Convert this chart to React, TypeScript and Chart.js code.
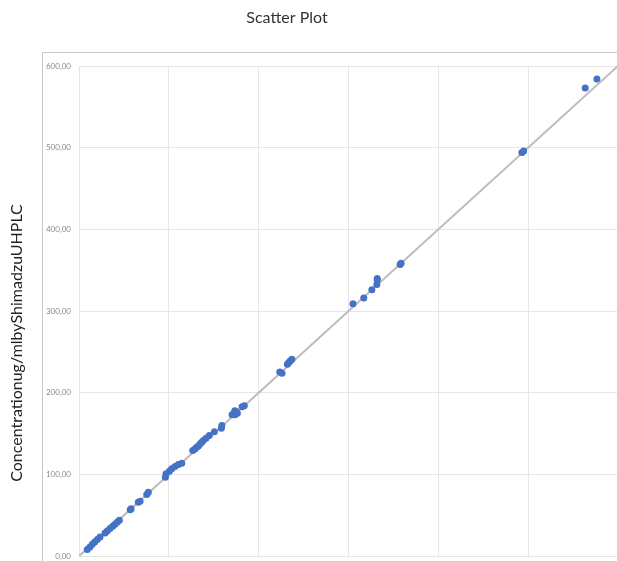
import React, { useEffect, useRef } from "react";
import { Chart, registerables } from "chart.js";

Chart.register(...registerables);

const chartTitle = "Scatter Plot";
const yAxisTitle = "Concentrationug/mlbyShimadzuUHPLC";

const xValues = [
  9.2, 12.2, 14.8, 17.5, 20.4, 23.4,
  29, 31.5, 34.5, 37.5, 40.1, 42.7, 44.9,
  57, 58, 66, 68, 75.4, 77.2,
  96.1, 96.9, 100.6, 103.2, 106.9, 110.6, 114.4,
  126.6, 129, 131, 132.9, 134.7, 136.6, 138.4, 141.4, 145, 150.7, 158.5, 159,
  170.4, 171.8, 173.4, 173.7, 175, 176.3, 181.5, 184,
  223.5, 226, 232, 233.5, 235, 237,
  305, 317, 326, 331.5, 332, 332, 357.5, 358.5,
  493, 495, 563.5, 576.5,
];
const yValues = [
  8.2, 11.3, 14.6, 17.4, 20.4, 23.5,
  28.4, 30.9, 33.8, 36.6, 39, 41.8, 43.9,
  57, 58, 65.9, 67.4, 75.6, 78.4,
  96.7, 100.9, 104, 107, 109.8, 112.2, 113.8,
  129.3, 131.3, 133.3, 135, 137.4, 139.4, 141.5, 144.3, 147.6, 152.4, 156.5, 160,
  173, 174, 178, 173, 177, 175, 183, 184,
  225.6, 224, 235, 237, 239, 241,
  309, 316, 326, 332.5, 338, 340, 357, 358.5,
  494, 496, 573, 584,
];
const trendX = [0, 600];
const trendY = [0, 600];
const axisMin = 0;
const axisMax = 600;
const axisStep = 100;

const CANVAS_W = 622;
const CANVAS_H = 569;

const decorPlugin = {
  id: "decor",
  beforeDraw(chart: any) {
    const ctx = chart.ctx as CanvasRenderingContext2D;
    ctx.save();
    ctx.fillStyle = "#ffffff";
    ctx.fillRect(0, 0, chart.width, chart.height);
    ctx.strokeStyle = "#c6c6c6";
    ctx.lineWidth = 1;
    ctx.beginPath();
    ctx.moveTo(42.5, chart.height);
    ctx.lineTo(42.5, 52.5);
    ctx.lineTo(chart.width, 52.5);
    ctx.stroke();
    ctx.fillStyle = "#333333";
    ctx.font = "16px Lato";
    ctx.textAlign = "center";
    ctx.textBaseline = "middle";
    ctx.fillText(chartTitle, 287, 18);
    ctx.translate(17, 343);
    ctx.rotate(-Math.PI / 2);
    ctx.fillStyle = "#222222";
    ctx.fillText(yAxisTitle, 0, 0);
    ctx.restore();
  },
};

export default function App() {
  const ref = useRef<HTMLCanvasElement | null>(null);
  useEffect(() => {
    if (!ref.current) return;
    const chart = new Chart(ref.current, {
      type: "scatter",
      data: {
        datasets: [
          {
            type: "scatter",
            data: xValues.map((x, i) => ({ x, y: yValues[i] })),
            backgroundColor: "#4472c4",
            borderColor: "#4472c4",
            borderWidth: 0,
            pointRadius: 3.5,
          },
          {
            type: "line",
            data: trendX.map((x, i) => ({ x, y: trendY[i] })),
            borderColor: "#bdbdbd",
            borderWidth: 2,
            pointRadius: 0,
            fill: false,
          },
        ],
      } as any,
      options: {
        animation: false,
        responsive: false,
        layout: { padding: { top: 66, left: 0, right: 0, bottom: 0 } },
        plugins: { legend: { display: false }, tooltip: { enabled: false }, title: { display: false } },
        scales: {
          x: {
            type: "linear",
            min: axisMin,
            max: axisMax,
            ticks: { display: false, stepSize: axisStep },
            grid: { color: "#e6e6e6", drawTicks: false },
            border: { display: false },
            afterFit: (s: any) => {
              s.height = 5;
            },
          },
          y: {
            type: "linear",
            min: axisMin,
            max: axisMax,
            ticks: {
              stepSize: axisStep,
              padding: 8,
              color: "#8a8a8a",
              font: { size: 8, family: "Lato" },
              callback: (v: any) => Number(v).toFixed(2).replace(".", ","),
            },
            grid: { color: "#e6e6e6", drawTicks: false },
            border: { display: false },
            afterFit: (s: any) => {
              s.width = 79;
            },
          },
        },
      },
      plugins: [decorPlugin],
    });
    return () => chart.destroy();
  }, []);
  return (
    <div
      style={{
        position: "fixed",
        left: 0,
        top: 0,
        width: 617,
        height: 561,
        overflow: "hidden",
        background: "#fff",
      }}
    >
      <canvas ref={ref} width={CANVAS_W} height={CANVAS_H} style={{ display: "block" }} />
    </div>
  );
}
